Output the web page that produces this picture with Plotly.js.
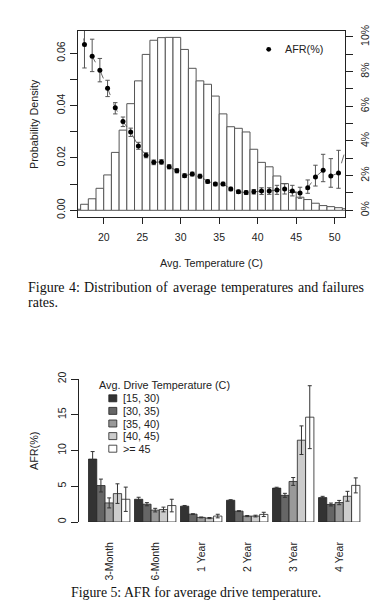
<!DOCTYPE html>
<html><head><meta charset="utf-8">
<script src="https://cdn.plot.ly/plotly-3.0.1.min.js"></script>
<style>html,body{margin:0;padding:0;background:#fff;}#chart{width:386px;height:611px;}</style>
</head><body><div id="chart"></div>
<script>
// ---------- Figure 4 data ----------
const histBinCenters = [16.5,17.5,18.5,19.5,20.5,21.5,22.5,23.5,24.5,25.5,26.5,27.5,28.5,29.5,30.5,31.5,32.5,33.5,34.5,35.5,36.5,37.5,38.5,39.5,40.5,41.5,42.5,43.5,44.5,45.5,46.5,47.5,48.5,49.5,50.5,51.5];
const histDensity = [0.0004,0.0023,0.0044,0.0084,0.0135,0.0221,0.0306,0.0407,0.0494,0.0595,0.0649,0.0659,0.0660,0.0660,0.0614,0.0542,0.0494,0.0481,0.0436,0.0368,0.0319,0.0313,0.0299,0.0233,0.0183,0.0166,0.0131,0.0102,0.0068,0.0050,0.0041,0.0027,0.0018,0.0014,0.0010,0.0006];
const afrTemps = [17.5,18.5,19.5,20.5,21.5,22.5,23.5,24.5,25.5,26.5,27.5,28.5,29.5,30.5,31.5,32.5,33.5,34.5,35.5,36.5,37.5,38.5,39.5,40.5,41.5,42.5,43.5,44.5,45.5,46.5,47.5,48.5,49.5,50.5];
const afrValues = [9.56,8.88,8.08,7.04,5.91,5.12,4.52,3.71,3.17,2.77,2.79,2.51,2.28,2.00,2.09,1.97,1.66,1.51,1.52,1.23,1.07,1.02,1.07,1.11,1.11,1.17,1.23,1.11,1.00,1.30,1.92,2.31,1.98,2.15];
const afrErrPlus = [0.95,0.99,0.68,0.46,0.30,0.26,0.22,0.21,0.15,0.13,0.13,0.12,0.12,0.11,0.11,0.11,0.10,0.10,0.10,0.10,0.10,0.11,0.13,0.19,0.19,0.27,0.30,0.33,0.33,0.45,0.68,0.92,1.00,1.31];
const afrErrMinus = [1.35,0.88,0.67,0.48,0.35,0.29,0.26,0.19,0.14,0.14,0.13,0.12,0.12,0.11,0.11,0.11,0.10,0.10,0.10,0.10,0.10,0.11,0.13,0.20,0.19,0.25,0.29,0.28,0.31,0.32,0.52,0.66,0.65,0.88];
// trend line also passes through the (clipped) neighbouring points outside the plotted range
const afrLineTemps = [16.5].concat(afrTemps, [51.5]);
const afrLineValues = [13.0].concat(afrValues, [3.64]);

// ---------- Figure 5 data ----------
const ageGroups = ['3-Month','6-Month','1 Year','2 Year','3 Year','4 Year'];
const tempRanges = ['[15, 30)','[30, 35)','[35, 40)','[40, 45)','>= 45'];
const tempColors = ['#333333','#666666','#999999','#cccccc','#ffffff'];
const afr15to30 = [8.80,3.18,2.21,3.04,4.74,3.41];
const afr30to35 = [5.10,2.49,1.10,1.52,3.73,2.45];
const afr35to40 = [2.67,1.66,0.64,0.83,5.67,2.72];
const afr40to45 = [3.97,1.75,0.55,0.83,11.44,3.60];
const afr45up   = [3.18,2.30,0.83,1.06,14.66,5.12];
const err15to30 = [1.05,0.28,0.10,0.08,0.12,0.18];
const err30to35 = [0.90,0.22,0.06,0.06,0.28,0.20];
const err35to40 = [0.70,0.25,0.06,0.08,0.55,0.30];
const err40to45 = [1.37,0.33,0.08,0.12,2.00,0.69];
const err45up   = [1.70,0.88,0.25,0.30,4.40,1.05];
const fig5Values = [afr15to30,afr30to35,afr35to40,afr40to45,afr45up];
const fig5Errors = [err15to30,err30to35,err35to40,err40to45,err45up];

// ---------- layout helpers (pixel -> paper) ----------
const W = 386, H = 611;
const fx = p => p / W, fy = p => 1 - p / H;
const SANS = 'Liberation Sans, Arial, Helvetica, sans-serif';
const SERIF = 'Liberation Serif, Times New Roman, serif';
const INK = '#222222';

const traces = [];
traces.push({
  type:'bar', x:histBinCenters, y:histDensity, width:1, xaxis:'x', yaxis:'y',
  marker:{color:'#ffffff', line:{color:'#555555', width:1}}, hoverinfo:'skip', showlegend:false
});
traces.push({
  type:'scatter', mode:'lines', x:afrLineTemps, y:afrLineValues, xaxis:'x', yaxis:'y2',
  line:{color:'#444444', width:0.8, dash:'dash'}, showlegend:false, hoverinfo:'skip'
});
traces.push({
  type:'scatter', mode:'markers', x:afrTemps, y:afrValues, xaxis:'x', yaxis:'y2',
  marker:{color:'#000000', size:5},
  error_y:{type:'data', array:afrErrPlus, arrayminus:afrErrMinus, symmetric:false, color:'#555555', thickness:1, width:2.2},
  showlegend:false
});
fig5Values.forEach((vals, i) => {
  traces.push({
    type:'bar', x:ageGroups, y:vals, xaxis:'x2', yaxis:'y3', name:tempRanges[i],
    marker:{color:tempColors[i], line:{color:'#222222', width:0.8}},
    error_y:{type:'data', array:fig5Errors[i], color:'#333333', thickness:1, width:2},
    showlegend:false
  });
});

const ann = [];
const shapes = [];
const capFont = {family:SERIF, size:14, color:'#111'};
// justified caption line
function justify(words, left, right, y, font) {
  const ctx = document.createElement('canvas').getContext('2d');
  ctx.font = font.size + 'px "Liberation Serif"';
  const widths = words.map(w => ctx.measureText(w).width);
  const gap = (right - left - widths.reduce((a, b) => a + b, 0)) / (words.length - 1);
  let x = left;
  words.forEach((w, i) => {
    ann.push({text:w, x:fx(x), y:fy(y), xanchor:'left', font:font, borderpad:0});
    x += widths[i] + gap;
  });
}
ann.push({text:'Probability Density', x:fx(34), y:fy(124), textangle:-90});
ann.push({text:'Avg. Temperature (C)', x:fx(211), y:fy(262.7)});
ann.push({text:'AFR(%)', x:fx(282.7), y:fy(49.3), xanchor:'left'});
shapes.push({type:'circle', xref:'paper', yref:'paper', x0:fx(266.3), x1:fx(271.1), y0:fy(51.7), y1:fy(46.9), fillcolor:'#000', line:{width:0}});
justify(['Figure','4:','Distribution','of','average','temperatures','and','failures'], 26.7, 363.3, 288, capFont);
ann.push({text:'rates.', x:fx(26.7), y:fy(302.3), xanchor:'left', font:capFont, borderpad:0});
ann.push({text:'AFR(%)', x:fx(34), y:fy(451), textangle:-90});
ann.push({text:'Avg. Drive Temperature (C)', x:fx(97.3), y:fy(385), xanchor:'left'});
tempRanges.forEach((lab, i) => {
  const cy = 398.3 + i * 12.6;
  shapes.push({type:'rect', xref:'paper', yref:'paper', x0:fx(108.8), x1:fx(116.8), y0:fy(cy+3.5), y1:fy(cy-3.5), fillcolor:tempColors[i], line:{color:'#222', width:0.8}});
  ann.push({text:lab, x:fx(120.5), y:fy(cy), xanchor:'left'});
});
ann.push({text:'Figure 5: AFR for average drive temperature.', x:fx(196), y:fy(592.7), font:{family:SERIF, size:13.8, color:'#111'}});
ann.forEach(a => {
  a.xref = 'paper'; a.yref = 'paper'; a.showarrow = false;
  if (!a.xanchor) a.xanchor = 'center';
  a.yanchor = 'middle';
  if (!a.font) a.font = {family:SANS, size:10.8, color:INK};
});

const axFont = {family:SANS, size:10.5, color:INK};
const layout = {
  width:W, height:H, margin:{l:0,r:0,t:0,b:0}, paper_bgcolor:'#fff', plot_bgcolor:'rgba(0,0,0,0)',
  showlegend:false, barmode:'group', bargap:0.1, bargroupgap:0,
  font:{family:SANS, color:INK},
  xaxis:{domain:[fx(77.7), fx(345)], anchor:'y', range:[16.62,51.34], showline:true, mirror:true, linecolor:INK, linewidth:1,
    ticks:'outside', ticklen:6, tickcolor:INK, tickvals:[20,25,30,35,40,45,50], ticklabelstandoff:4, showgrid:false, zeroline:false, tickfont:axFont},
  yaxis:{domain:[fy(217.3), fy(30.7)], anchor:'x', range:[-0.00267,0.06855], showline:true, mirror:true, linecolor:INK, linewidth:1,
    ticks:'outside', ticklen:7, tickcolor:INK, tickvals:[0,0.01,0.02,0.03,0.04,0.05,0.06], ticktext:['0.00','','0.02','','0.04','','0.06'],
    tickangle:-90, ticklabelstandoff:1, showgrid:false, zeroline:false, tickfont:axFont},
  yaxis2:{overlaying:'y', side:'right', anchor:'x', range:[-0.404,10.36], showline:false,
    ticks:'outside', ticklen:7, tickcolor:INK, tickvals:[0,1,2,3,4,5,6,7,8,9,10], ticktext:['0%','','2%','','4%','','6%','','8%','','10%'],
    tickangle:-90, ticklabelstandoff:3, showgrid:false, zeroline:false, tickfont:axFont},
  xaxis2:{domain:[fx(86.2), fx(362.2)], anchor:'y3', type:'category', range:[-0.5,5.5], showline:false, ticks:'',
    tickangle:-90, ticklabelstandoff:17, showgrid:false, zeroline:false, tickfont:axFont},
  yaxis3:{domain:[fy(522), fy(379)], anchor:'free', position:fx(77.7), range:[0,20], showline:true, linecolor:INK, linewidth:1,
    ticks:'outside', ticklen:7, tickcolor:INK, tickvals:[0,5,10,15,20], tickangle:-90, ticklabelstandoff:1, showgrid:false, zeroline:false, tickfont:axFont},
  annotations:ann, shapes:shapes
};
Plotly.newPlot('chart', traces, layout, {staticPlot:true, displayModeBar:false});
</script></body></html>
